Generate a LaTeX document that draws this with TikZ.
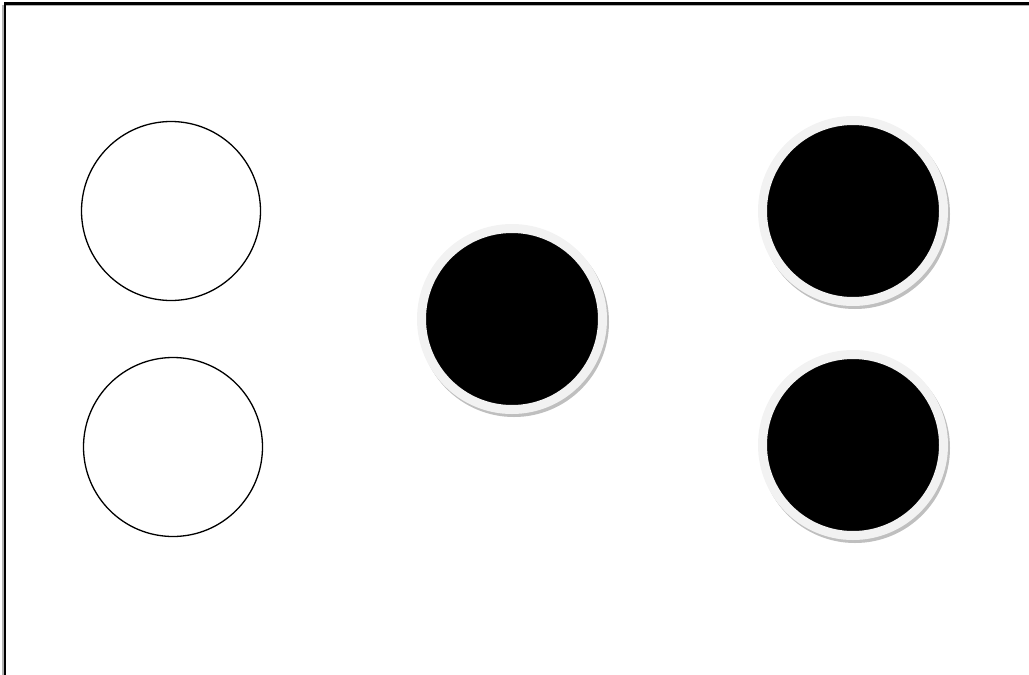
\documentclass[tikz,border=0pt]{standalone}
\usetikzlibrary{shadows}

\begin{document}
\begin{tikzpicture}[
  x=1pt, y=-1pt,
  hole/.style={circle, draw=black, line width=1.3pt, fill=white,
               inner sep=0pt, minimum size=179pt},
  bead/.style={circle, draw=black!5, line width=9pt, fill=black,
               inner sep=0pt, minimum size=181pt,
               drop shadow={shadow xshift=2pt, shadow yshift=-3pt,
                            fill=black!25, draw=black!25, line width=9pt, opacity=1}},
  frame/.style={line width=2.2pt, draw=black}
]
  \useasboundingbox (0,0) rectangle (1029,675);
  % frame
  \draw[line width=1.5pt, black!30] (3,675) -- (3,5.5) -- (1029,5.5);
  \draw[frame] (5,675) -- (5,3.5) -- (1029,3.5);
  % empty places on the left
  \node[hole] (w1) at (171,211) {};
  \node[hole] (w2) at (173,447) {};
  % filled places
  \node[bead] (b1) at (512,319) {};
  \node[bead] (b2) at (853,211) {};
  \node[bead] (b3) at (853,445) {};
\end{tikzpicture}
\end{document}
